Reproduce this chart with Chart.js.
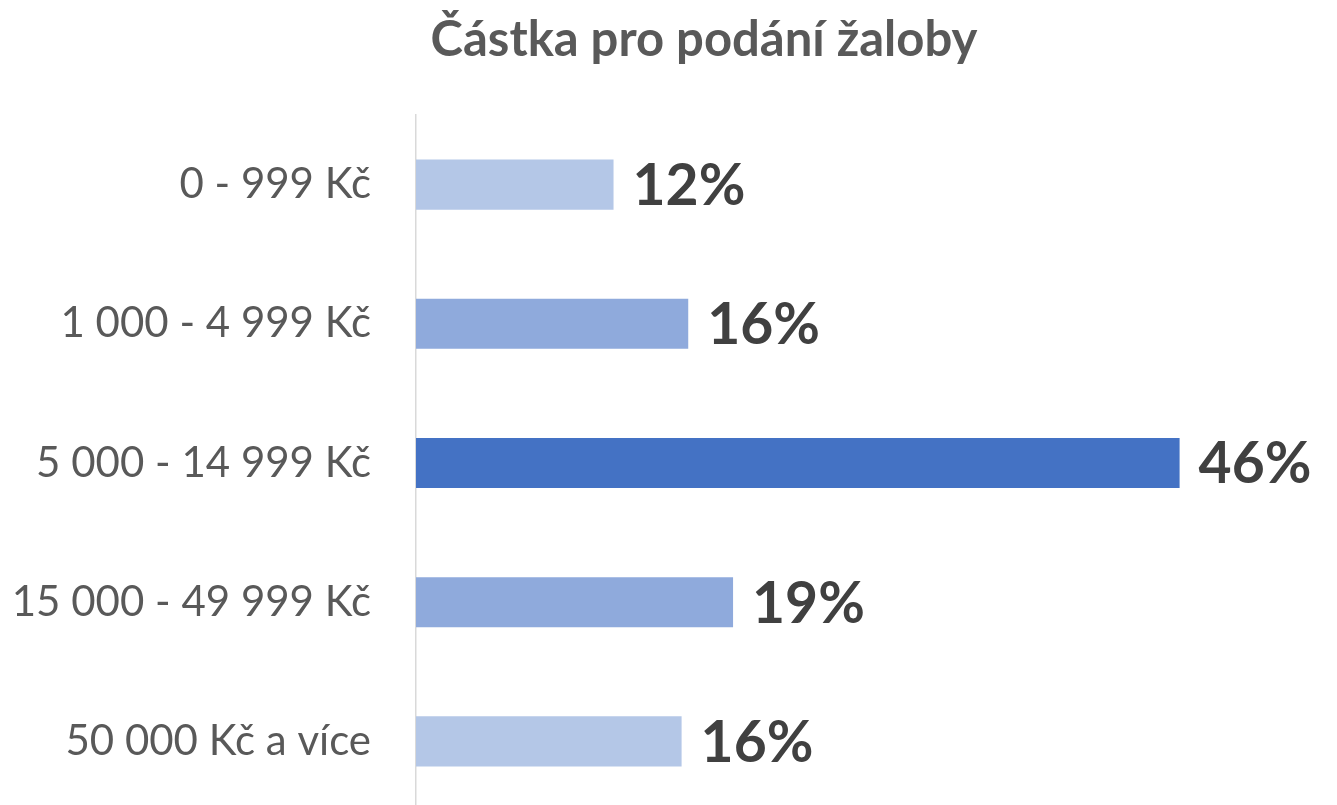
<!DOCTYPE html>
<html>
<head>
<meta charset="utf-8">
<script src="https://cdn.jsdelivr.net/npm/chart.js@4/dist/chart.umd.min.js"></script>
<style>
html,body{margin:0;padding:0;background:#fff;overflow:hidden;}
#wrap{width:1337px;height:811px;position:relative;}
</style>
</head>
<body>
<div id="wrap"><canvas id="c"></canvas></div>
<script>
const chartTitle = "Částka pro podání žaloby";
const categories = ["0 - 999 Kč", "1 000 - 4 999 Kč", "5 000 - 14 999 Kč", "15 000 - 49 999 Kč", "50 000 Kč a více"];
const values = [11.9, 16.4, 46.0, 19.1, 16.0];
const barColors = ["#B4C7E7", "#8FAADC", "#4472C4", "#8FAADC", "#B4C7E7"];
const FONT = "Lato, 'Open Sans', sans-serif";

const titlePlugin = {
  id: 'customTitle',
  afterDraw(chart) {
    const ctx = chart.ctx;
    ctx.save();
    ctx.font = "bold 49px " + FONT;
    ctx.fillStyle = "#595959";
    ctx.textAlign = "center";
    ctx.textBaseline = "middle";
    ctx.fillText(chartTitle, 704, 40);
    ctx.restore();
  }
};

const labelPlugin = {
  id: 'valueLabels',
  afterDatasetsDraw(chart) {
    const ctx = chart.ctx;
    const meta = chart.getDatasetMeta(0);
    ctx.save();
    ctx.font = "bold 57px " + FONT;
    ctx.fillStyle = "#404040";
    ctx.textAlign = "left";
    ctx.textBaseline = "middle";
    meta.data.forEach((bar, i) => {
      ctx.fillText(Math.round(values[i]) + "%", bar.x + 19, bar.y + 2);
    });
    ctx.restore();
  }
};

new Chart(document.getElementById('c'), {
  type: 'bar',
  data: {
    labels: categories,
    datasets: [{
      data: values,
      backgroundColor: barColors,
      borderWidth: 0,
      categoryPercentage: 1.0,
      barPercentage: 0.36
    }]
  },
  options: {
    indexAxis: 'y',
    responsive: true,
    maintainAspectRatio: false,
    animation: false,
    layout: { padding: { top: 115, right: 91, bottom: 0, left: 0 } },
    plugins: { legend: { display: false }, tooltip: { enabled: false }, title: { display: false } },
    scales: {
      x: { display: false, min: 0, max: 50 },
      y: {
        grid: { display: false, drawTicks: false },
        border: { display: true, color: "#D9D9D9", width: 1.5 },
        ticks: { color: "#595959", font: { family: FONT, size: 42 }, padding: 45 },
        afterFit(scale) { scale.width = 416; scale.paddingTop = 0; scale.paddingBottom = 0; }
      }
    }
  },
  plugins: [titlePlugin, labelPlugin]
});
</script>
</body>
</html>
